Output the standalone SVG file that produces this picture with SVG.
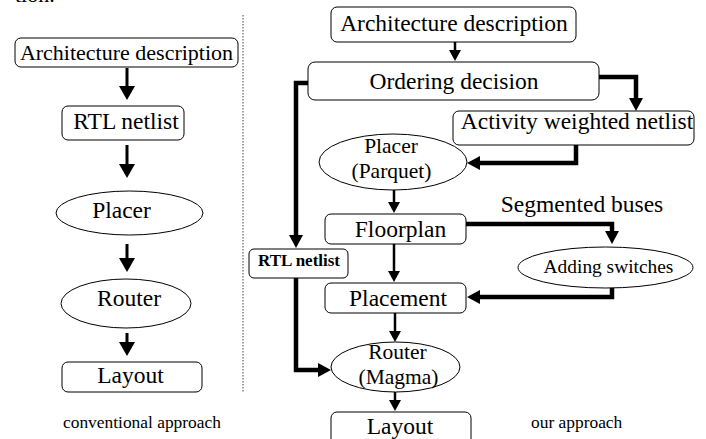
<svg xmlns="http://www.w3.org/2000/svg" width="706" height="439" viewBox="0 0 706 439">
<style>
.box{fill:#fff;stroke:#000;stroke-width:1}
.t{font-family:"Liberation Serif","Times New Roman",serif;font-size:23.5px;fill:#000;text-anchor:middle}
.two{font-size:21.5px}
.s{font-family:"Liberation Serif","Times New Roman",serif;font-size:17.4px;fill:#000}
.thin{fill:none;stroke:#000;stroke-width:3}
.thin2{fill:none;stroke:#000;stroke-width:2.5}
.thick{fill:none;stroke:#000;stroke-width:4.5}
</style>
<defs>
<marker id="mA" markerUnits="userSpaceOnUse" markerWidth="15" markerHeight="16" refX="0" refY="8" orient="auto" overflow="visible"><path d="M0,0 L14,8 L0,16 z" fill="#000"/></marker>
<marker id="mB" markerUnits="userSpaceOnUse" markerWidth="12" markerHeight="12" refX="0" refY="6" orient="auto" overflow="visible"><path d="M0,0 L11,6 L0,12 z" fill="#000"/></marker>
<marker id="mC" markerUnits="userSpaceOnUse" markerWidth="13" markerHeight="14" refX="0" refY="7" orient="auto" overflow="visible"><path d="M0,0 L13,7 L0,14 z" fill="#000"/></marker>
</defs>
<rect width="706" height="439" fill="#fff"/>
<text x="15" y="2" class="t" style="text-anchor:start;font-size:22px">tion.</text>
<line x1="243" y1="15" x2="243" y2="392" stroke="#444" stroke-width="1" stroke-dasharray="1.5 1.5"/>

<g id="connectors">
<line class="thin" x1="127" y1="68" x2="127" y2="86" marker-end="url(#mA)"/>
<line class="thin" x1="127" y1="145" x2="127" y2="164" marker-end="url(#mA)"/>
<line class="thin" x1="127" y1="244" x2="127" y2="258" marker-end="url(#mA)"/>
<line class="thin" x1="127" y1="333" x2="127" y2="342" marker-end="url(#mA)"/>

<line class="thin2" x1="455" y1="42" x2="455" y2="50" marker-end="url(#mB)"/>
<path class="thick" d="M308,83 H296 V235" marker-end="url(#mC)"/>
<path class="thick" d="M599,77 H636 V98" marker-end="url(#mC)"/>
<path class="thick" d="M576,145 V163 H480" marker-end="url(#mC)"/>
<line class="thin2" x1="394" y1="190" x2="394" y2="202" marker-end="url(#mB)"/>
<path class="thick" d="M466,224 H612 V231" marker-end="url(#mC)"/>
<line class="thin2" x1="394" y1="244" x2="394" y2="271" marker-end="url(#mB)"/>
<path class="thick" d="M612,288 V297 H480" marker-end="url(#mC)"/>
<line class="thin2" x1="395" y1="313" x2="395" y2="331" marker-end="url(#mB)"/>
<path class="thick" d="M296,278 V370 H318" marker-end="url(#mC)"/>
<line class="thin2" x1="395" y1="392" x2="395" y2="400" marker-end="url(#mB)"/>
</g>

<g id="l-arch"><rect class="box" x="15" y="38" width="223" height="29" rx="6"/><text class="t" x="126.5" y="60" style="font-size:22px">Architecture description</text></g>
<g id="l-rtl"><rect class="box" x="62" y="106" width="122" height="34" rx="6"/><text class="t" x="126" y="129">RTL netlist</text></g>
<g id="l-placer"><ellipse class="box" cx="129.5" cy="213" rx="73.5" ry="22"/><text class="t" x="121.5" y="218">Placer</text></g>
<g id="l-router"><ellipse class="box" cx="126" cy="303.5" rx="65" ry="24.5"/><text class="t" x="129" y="306">Router</text></g>
<g id="l-layout"><rect class="box" x="62" y="362" width="140" height="30" rx="6"/><text class="t" x="130.5" y="383">Layout</text></g>
<text class="s" x="63" y="428">conventional approach</text>

<g id="r-arch"><rect class="box" x="331" y="7" width="245" height="35" rx="6"/><text class="t" x="454" y="31">Architecture description</text></g>
<g id="r-order"><rect class="box" x="308" y="62" width="291" height="38" rx="7"/><text class="t" x="454" y="89">Ordering decision</text></g>
<g id="r-activity"><rect class="box" x="453" y="111" width="241" height="34" rx="6"/><text class="t" x="577" y="129">Activity weighted netlist</text></g>
<g id="r-placer"><ellipse class="box" cx="393" cy="162" rx="74" ry="28"/><text class="t two" x="391" y="153">Placer</text><text class="t two" x="391.5" y="178">(Parquet)</text></g>
<g id="r-floorplan"><rect class="box" x="325" y="214" width="141" height="30" rx="6"/><text class="t" x="400.5" y="237">Floorplan</text></g>
<text id="seg" class="t" x="582" y="212">Segmented buses</text>
<g id="r-rtl"><rect class="box" x="249" y="249" width="99" height="29" rx="5"/><text class="t" x="299" y="266" style="font-size:17px;font-weight:bold">RTL netlist</text></g>
<g id="r-switch"><ellipse class="box" cx="605.5" cy="267.5" rx="87.5" ry="20.5"/><text class="t" x="608.5" y="273" style="font-size:19.4px">Adding switches</text></g>
<g id="r-placement"><rect class="box" x="325" y="283" width="141" height="30" rx="6"/><text class="t" x="398" y="306">Placement</text></g>
<g id="r-router"><ellipse class="box" cx="395.5" cy="367" rx="64.5" ry="25"/><text class="t two" x="397.5" y="359">Router</text><text class="t two" x="398.5" y="384">(Magma)</text></g>
<g id="r-layout"><rect class="box" x="331" y="412" width="140" height="34" rx="6"/><text class="t" x="400" y="434">Layout</text></g>
<text class="s" x="531" y="428">our approach</text>
</svg>
